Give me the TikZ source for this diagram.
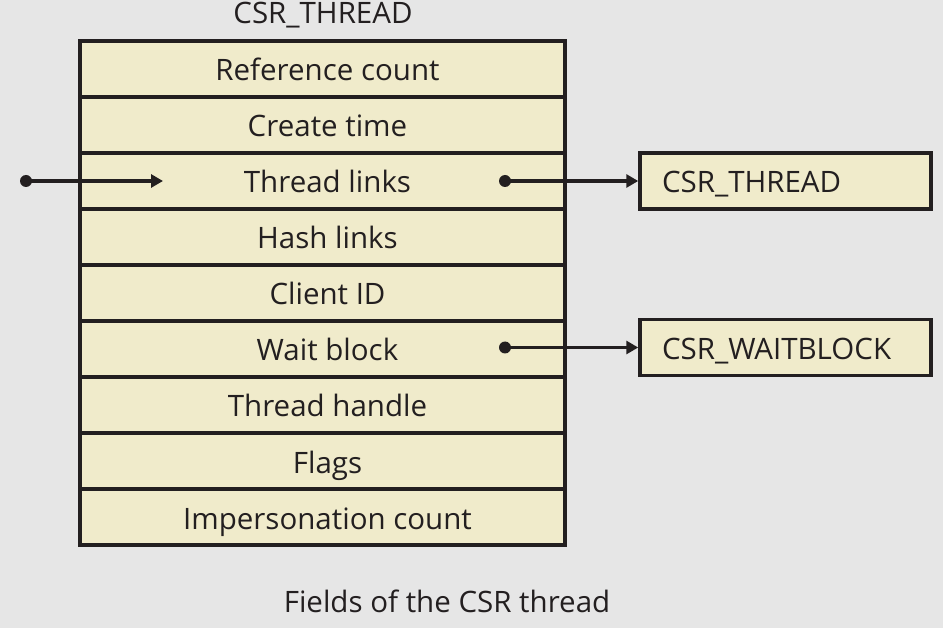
\documentclass[tikz,border=0pt]{standalone}
\usepackage{fontspec}
\setmainfont{Open Sans}
\usetikzlibrary{arrows.meta}
\definecolor{bgc}{HTML}{E6E6E6}
\definecolor{cellc}{HTML}{F0EBCB}
\definecolor{inkc}{HTML}{231F20}
\begin{document}
\begin{tikzpicture}[x=1pt,y=-1pt,
  txt/.style={font=\fontsize{29.5}{34}\selectfont,text=inkc},
  boxbase/.style={txt,draw=inkc,line width=3.5pt,fill=cellc,minimum height=56pt,inner sep=0pt,text height=24pt,text depth=0pt},
  cell/.style={boxbase,minimum width=485pt,execute at begin node={\hspace*{10pt}}},
  extbox/.style={boxbase,minimum width=291pt,text width=247pt,align=left},
  lbl/.style={txt,inner sep=0pt,anchor=base},
  ptr/.style={draw=inkc,line width=3.5pt,-{Triangle[length=12pt,width=13pt]}},
  dot/.style={fill=inkc,circle,inner sep=0pt,minimum size=12pt}]
\fill[bgc] (0,0) rectangle (943,628);
\useasboundingbox (0,0) rectangle (943,628);
\node[lbl] (title) at (323,24) {CSR\_THREAD};
\node[cell] (r1) at (322.5,69) {Reference count};
\node[cell] (r2) at (322.5,125) {Create time};
\node[cell] (r3) at (322.5,181) {Thread links};
\node[cell] (r4) at (322.5,237) {Hash links};
\node[cell] (r5) at (322.5,293) {Client ID};
\node[cell] (r6) at (322.5,349) {Wait block};
\node[cell] (r7) at (322.5,405) {Thread handle};
\node[cell] (r8) at (322.5,461) {Flags};
\node[cell] (r9) at (322.5,517) {Impersonation count};
\node[extbox] (ct) at (785.5,181) {CSR\_THREAD};
\node[extbox] (cw) at (785.5,347.5) {CSR\_WAITBLOCK};
\node[lbl] (cap) at (447,612) {Fields of the CSR thread};
\node[dot] (d0) at (26,181) {};
\coordinate (e0) at (163,181);
\node[dot] (d1) at (505,181) {};
\node[dot] (d2) at (505,347.5) {};
\draw[ptr] (d0.center) -- (e0);
\draw[ptr] (d1.center) -- (ct.west);
\draw[ptr] (d2.center) -- (cw.west);
\end{tikzpicture}
\end{document}
